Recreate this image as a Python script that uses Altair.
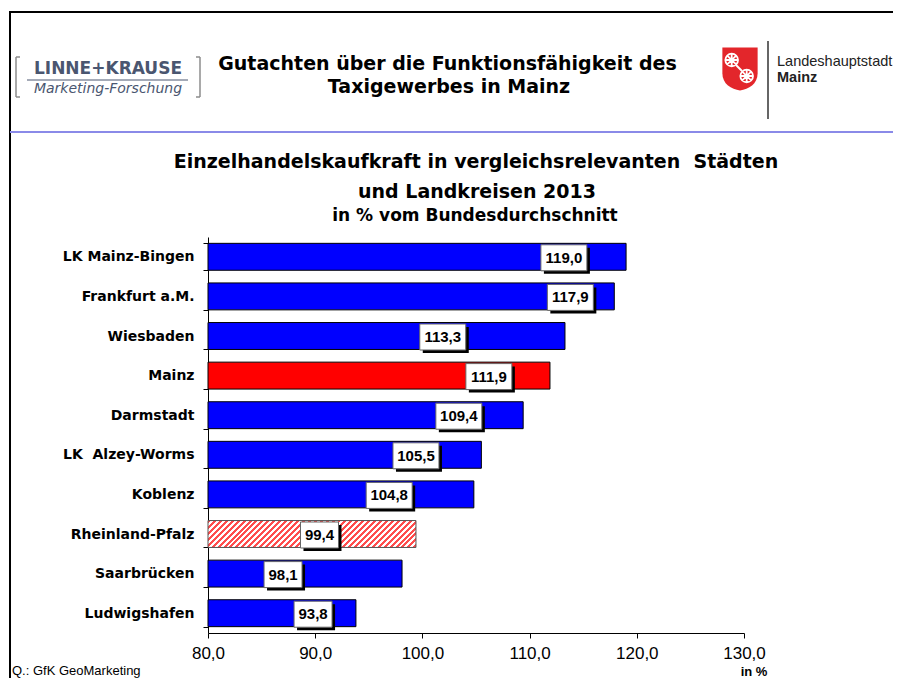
import altair as alt
import pandas as pd

# ---------------- data ----------------
cities = ["LK Mainz-Bingen", "Frankfurt a.M.", "Wiesbaden", "Mainz", "Darmstadt",
          "LK \u00a0Alzey-Worms", "Koblenz", "Rheinland-Pfalz", "Saarbrücken", "Ludwigshafen"]
values = [119.0, 117.9, 113.3, 111.9, 109.4, 105.5, 104.8, 99.4, 98.1, 93.8]
# where the value boxes sit along the axis
label_pos = [113.2, 113.8, 101.9, 106.2, 103.4, 99.4, 96.9, 90.4, 87.0, 89.8]
x_ticks = [80, 90, 100, 110, 120, 130]

header_lines = ["Gutachten über die Funktionsfähigkeit des", "Taxigewerbes in Mainz"]
title_lines = ["Einzelhandelskaufkraft in vergleichsrelevanten \u00a0Städten", "und Landkreisen 2013"]
subtitle = "in % vom Bundesdurchschnitt"
source_note = "Q.: GfK GeoMarketing"
unit_note = "in %"
logo_left = ["LINNE+KRAUSE", "Marketing-Forschung"]
logo_right = ["Landeshauptstadt", "Mainz"]
highlight = "Mainz"
state = "Rheinland-Pfalz"

df = pd.DataFrame({"city": cities, "value": values, "pos": label_pos})
one = pd.DataFrame({"k": [0]})

W, H = 536, 396
FONT = "Liberation Sans, Arial, sans-serif"
WIDE = "DejaVu Sans, Verdana, sans-serif"
fmt = "replace(format(datum.value, '.1f'), '.', ',')"

xscale = alt.Scale(domain=[80, 130], zero=False, nice=False)
yscale = alt.Scale(paddingInner=0.32, paddingOuter=0.16)

# ---------------- hatch via a striped gradient ----------------
bar_w = (values[cities.index(state)] - 80) / 50 * W
bar_h = (H / len(cities)) * (1 - 0.32)
r = bar_h / bar_w
k = 1.15
span = bar_w * k * (1 + r * r)
n = int(round(span / 6.0))
stops = []
for i in range(n):
    a = i / n
    b = (i + 0.5) / n
    c = (i + 1) / n
    stops += [{"offset": a, "color": "#ff4d4d"}, {"offset": b, "color": "#ff4d4d"},
              {"offset": b, "color": "#ffffff"}, {"offset": c, "color": "#ffffff"}]
hatch = {"gradient": "linear", "x1": 0, "y1": 0, "x2": k, "y2": k * r, "stops": stops}

ysort = alt.Y("city:N", sort=cities, scale=yscale,
              axis=alt.Axis(title=None, labelFont=WIDE, labelFontSize=14, labelFontWeight="bold",
                            labelColor="#000", domainColor="#000", tickColor="#000", tickSize=5,
                            tickBand="extent", labelPadding=9, domainWidth=1))
xenc = alt.X("value:Q", scale=xscale,
             axis=alt.Axis(title=None, values=x_ticks, labelExpr=fmt, labelFont=FONT,
                           labelFontSize=17, labelColor="#000", domainColor="#000",
                           tickColor="#000", tickSize=5, labelPadding=7, grid=False,
                           domainWidth=1, labelFlush=False))

base = alt.Chart(df)

bars = base.transform_filter(f"datum.city != '{state}'").mark_bar(
    stroke="#000", strokeWidth=1
).encode(
    y=ysort, x=xenc, x2=alt.datum(80),
    fill=alt.condition(f"datum.city == '{highlight}'", alt.value("#ff0000"), alt.value("#0000ff")),
)

hbar = base.transform_filter(f"datum.city == '{state}'").mark_bar(
    stroke="#555", strokeWidth=1, fill=hatch
).encode(y=ysort, x=xenc, x2=alt.datum(80))

def boxes(cond, w, h=26):
    sh = f"M-1,-{h / w:.4f} L1,-{h / w:.4f} L1,{h / w:.4f} L-1,{h / w:.4f} Z"
    sub = base.transform_filter(cond)
    enc = dict(x=alt.X("pos:Q", scale=xscale), y=alt.Y("city:N", sort=cities, scale=yscale))
    shadow = sub.mark_point(shape=sh, size=w * w, filled=True, fill="#000", opacity=1,
                            strokeWidth=0, xOffset=3, yOffset=4).encode(**enc)
    box = sub.mark_point(shape=sh, size=w * w, filled=True, fill="#fff", opacity=1,
                         stroke="#666", strokeWidth=1, yOffset=1).encode(**enc)
    return shadow + box

labels = base.transform_calculate(
    lab="replace(format(datum.value, '.1f'), '.', ',')"
).mark_text(font=FONT, fontSize=15, fontWeight="bold", color="#000", dy=1).encode(
    x=alt.X("pos:Q", scale=xscale), y=alt.Y("city:N", sort=cities, scale=yscale), text="lab:N")

# ---------------- decorations (view coords = page - (208, 237)) ----------------
def txt(s, x, y, size, weight="normal", align="center", color="#000", style="normal", font=FONT):
    return alt.Chart(one).mark_text(text=s, font=font, fontSize=size, fontWeight=weight,
                                    align=align, baseline="alphabetic", color=color,
                                    fontStyle=style).encode(x=alt.value(x), y=alt.value(y))

def rule(x1, y1, x2, y2, color="#000", w=1):
    return alt.Chart(one).mark_rule(color=color, strokeWidth=w).encode(
        x=alt.value(x1), x2=alt.value(x2), y=alt.value(y1), y2=alt.value(y2))

GR = "#8c8c8c"
LK = "#4a5670"
deco = [
    rule(-198, -225, 690, -225, "#000", 2),
    rule(-198, -226, -198, 460, "#000", 2),
    rule(-198, -105, 690, -105, "#8a8ae8", 2),
    txt(header_lines[0], 239.5, -167, 19, "bold", font=WIDE),
    txt(header_lines[1], 241, -144.3, 19, "bold", font=WIDE),
    txt(title_lines[0], 268, -69, 19, "bold", font=WIDE),
    txt(title_lines[1], 269, -39.3, 19, "bold", font=WIDE),
    txt(subtitle, 267, -15.8, 17, "bold", font=WIDE),
    txt(source_note, -196, 438, 13, align="left"),
    txt(unit_note, 546, 438.5, 13, "bold"),
    # Linne+Krause logo
    rule(-192, -180, -192, -140, GR, 1.5),
    rule(-192, -180, -188, -180, GR, 1.5),
    rule(-192, -140, -188, -140, GR, 1.5),
    rule(-8, -180, -8, -140, GR, 1.5),
    rule(-12, -180, -8, -180, GR, 1.5),
    rule(-12, -140, -8, -140, GR, 1.5),
    txt(logo_left[0], -100, -163, 17, "bold", color=LK, font=WIDE),
    rule(-181, -157, -20, -157, LK, 1),
    txt(logo_left[1], -100, -143.7, 14, style="italic", color=LK, font=WIDE),
    # Mainz logo
    rule(560, -196, 560, -118, "#333", 1.5),
    txt(logo_right[0], 569, -171.3, 14.5, align="left", color="#222"),
    txt(logo_right[1], 569, -154.7, 14.5, "bold", align="left", color="#222"),
]
shield = alt.Chart(one).mark_point(
    shape="M-0.82,-1 L0.82,-1 L0.82,0.2 C0.82,0.7 0.4,0.95 0,1 C-0.4,0.95 -0.82,0.7 -0.82,0.2 Z",
    size=1849, filled=True, fill="#e3262b", opacity=1, strokeWidth=0
).encode(x=alt.value(532), y=alt.value(-168))
wheel_shape = ("M-1,0 A1,1 0 1,0 1,0 A1,1 0 1,0 -1,0 M-1,0 L1,0 M0,-1 L0,1 "
               "M-0.7,-0.7 L0.7,0.7 M-0.7,0.7 L0.7,-0.7")
wheel1 = alt.Chart(one).mark_point(shape=wheel_shape, size=161, filled=False, stroke="#fff",
                                   strokeWidth=1.8, opacity=1).encode(x=alt.value(523.7), y=alt.value(-177))
wheel2 = alt.Chart(one).mark_point(shape=wheel_shape, size=161, filled=False, stroke="#fff",
                                   strokeWidth=1.8, opacity=1).encode(x=alt.value(538.7), y=alt.value(-161))
link = rule(528, -172, 534, -166, "#fff", 2)

chart = alt.layer(
    bars, hbar,
    boxes("datum.value >= 100", 46), boxes("datum.value < 100", 38),
    labels, *deco, shield, wheel1, wheel2, link
).properties(
    width=W, height=H,
    autosize=alt.AutoSizeParams(type="none"),
    padding={"left": 200, "top": 229, "right": 149, "bottom": 45},
    background="#ffffff",
).configure_view(strokeWidth=0)

chart.save("out.html", embed_options={"renderer": "svg", "actions": False})
